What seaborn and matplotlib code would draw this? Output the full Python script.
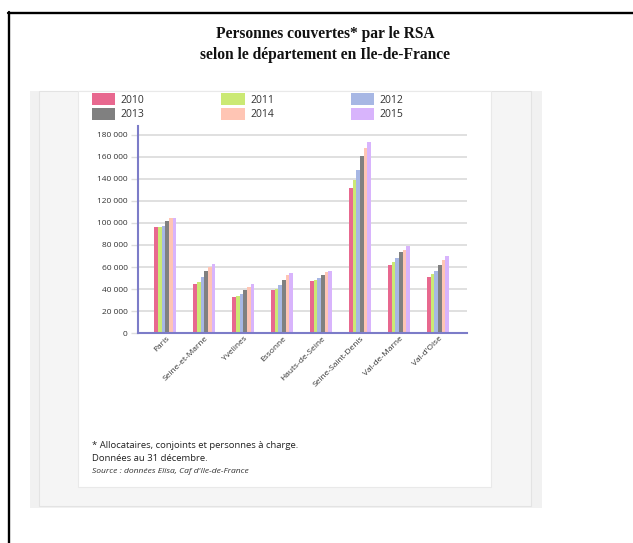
import matplotlib
matplotlib.use("Agg")
import matplotlib.pyplot as plt
from matplotlib.patches import Rectangle, Patch
from matplotlib.lines import Line2D
import matplotlib.transforms as mtransforms
import seaborn as sns
import pandas as pd

# ---------------- data ----------------
departements = ["Paris", "Seine-et-Marne", "Yvelines", "Essonne", "Hauts-de-Seine",
                "Seine-Saint-Denis", "Val-de-Marne", "Val-d'Oise"]
years = ["2010", "2011", "2012", "2013", "2014", "2015"]
v2010 = [96000, 44600, 32900, 38900, 47600, 131800, 62300, 51400]
v2011 = [96000, 46800, 33800, 40400, 48600, 138900, 64700, 53700]
v2012 = [97500, 50700, 35900, 43700, 50100, 148000, 68000, 56600]
v2013 = [101500, 56200, 38900, 48600, 53000, 160800, 73500, 62300]
v2014 = [104500, 60000, 41900, 53000, 55600, 167700, 75500, 66400]
v2015 = [104500, 63000, 44600, 54600, 56300, 173700, 78800, 70200]
colors = ["#E8688F", "#CBE974", "#A7B7E4", "#808080", "#FFC5B4", "#D8B4FC"]
yticks = [0, 20000, 40000, 60000, 80000, 100000, 120000, 140000, 160000, 180000]
ytick_labels = ["0", "20 000", "40 000", "60 000", "80 000", "100 000",
                "120 000", "140 000", "160 000", "180 000"]
title = "Personnes couvertes* par le RSA\nselon le département en Ile-de-France"
notes = ["* Allocataires, conjoints et personnes à charge.",
         "Données au 31 décembre."]
source = "Source : données Elisa, Caf d'Ile-de-France"

series = [v2010, v2011, v2012, v2013, v2014, v2015]
rows = []
for y, vals in zip(years, series):
    for d, v in zip(departements, vals):
        rows.append({"dep": d, "year": y, "value": v})
df = pd.DataFrame(rows)

# ---------------- figure ----------------
W, H = 633, 543
sns.set_theme(style="white")
plt.rcParams["font.family"] = ["Open Sans", "DejaVu Sans"]
fig = plt.figure(figsize=(W / 100, H / 100), dpi=100)
fig.patch.set_facecolor("white")

def fx(x):
    return x / W

def fy(y):
    return 1 - y / H

def rect(x0, y0, x1, y1, fc, ec="none", lw=0, z=0):
    fig.add_artist(Rectangle((fx(x0), fy(y1)), fx(x1) - fx(x0), fy(y0) - fy(y1),
                             transform=fig.transFigure, facecolor=fc,
                             edgecolor=ec, linewidth=lw, zorder=z))

# background panels
rect(30, 91, 542, 508, "#F1F1F1", z=0)
rect(39, 91, 531, 506, "#F5F5F5", ec="#E3E3E3", lw=0.8, z=0.1)
rect(78, 91, 490.5, 487, "white", ec="#E9E9E9", lw=0.8, z=0.2)
# black frame
fig.add_artist(Line2D([fx(8), fx(633)], [fy(13), fy(13)], transform=fig.transFigure,
                      color="black", linewidth=1.7, zorder=1))
fig.add_artist(Line2D([fx(9.3), fx(9.3)], [fy(12), fy(543)], transform=fig.transFigure,
                      color="black", linewidth=1.7, zorder=1))

# title
fig.text(fx(325), fy(44.5), title, ha="center", va="center", fontsize=11.2,
         fontweight="bold", family=["Liberation Serif", "DejaVu Serif"],
         linespacing=1.45, color="#111111", zorder=2)

# axes
ax_l, ax_r, ax_b, ax_t = 138, 467, 333.3, 125.7
ax = fig.add_axes([fx(ax_l), fy(ax_b), fx(ax_r) - fx(ax_l), fy(ax_t) - fy(ax_b)])
ax.set_facecolor("none")
ax.set_zorder(3)

sns.barplot(data=df, x="dep", y="value", hue="year", order=departements,
            hue_order=years, palette=colors, saturation=1, width=0.565,
            legend=False, ax=ax, zorder=3, linewidth=0)

spacing = 38.96
ax.set_xlim(-0.70, -0.70 + (ax_r - ax_l) / spacing)
ax.set_ylim(0, (ax_b - ax_t) / 1.1038 * 1000)
ax.set_yticks(yticks)
ax.set_yticklabels(ytick_labels)
ax.yaxis.grid(True, color="#DDDDDD", linewidth=1.3, zorder=0)
ax.set_axisbelow(True)
ax.set_xlabel("")
ax.set_ylabel("")
for s in ["top", "right"]:
    ax.spines[s].set_visible(False)
for s in ["left", "bottom"]:
    ax.spines[s].set_color("#7C7CC8")
    ax.spines[s].set_linewidth(1.5)
    ax.spines[s].set_zorder(4)
ax.tick_params(axis="y", length=5, width=1, color="#DDDDDD", pad=2.5,
               labelsize=6, labelcolor="#333333", left=True)
ax.tick_params(axis="x", length=0, pad=3, labelsize=6, labelcolor="#333333")
offset = mtransforms.ScaledTranslation(3 / 100, 0, fig.dpi_scale_trans)
for lab in ax.get_xticklabels():
    lab.set_rotation(45)
    lab.set_ha("right")
    lab.set_va("center")
    lab.set_rotation_mode("anchor")
    lab.set_transform(lab.get_transform() + offset)

# legend (row-wise order: 2010 2011 2012 / 2013 2014 2015)
handles = [Patch(facecolor=c, edgecolor="none") for c in colors]
order = [0, 3, 1, 4, 2, 5]
fig.legend([handles[i] for i in order], [years[i] for i in order],
           ncol=3, loc="upper left", bbox_to_anchor=(fx(91.7), fy(93.3)),
           frameon=False, borderpad=0, borderaxespad=0, fontsize=7.5,
           handlelength=2.24, handleheight=1.375, handletextpad=0.55,
           labelspacing=0.23, columnspacing=7.35, labelcolor="#333333")

# notes
fig.text(fx(92), fy(445.7), notes[0], ha="left", va="center", fontsize=6.8,
         color="#222222", zorder=2)
fig.text(fx(92), fy(458.7), notes[1], ha="left", va="center", fontsize=6.8,
         color="#222222", zorder=2)
fig.text(fx(92), fy(471.3), source, ha="left", va="center", fontsize=6.1,
         style="italic", color="#333333", zorder=2)

fig.savefig("out.png", dpi=100)
